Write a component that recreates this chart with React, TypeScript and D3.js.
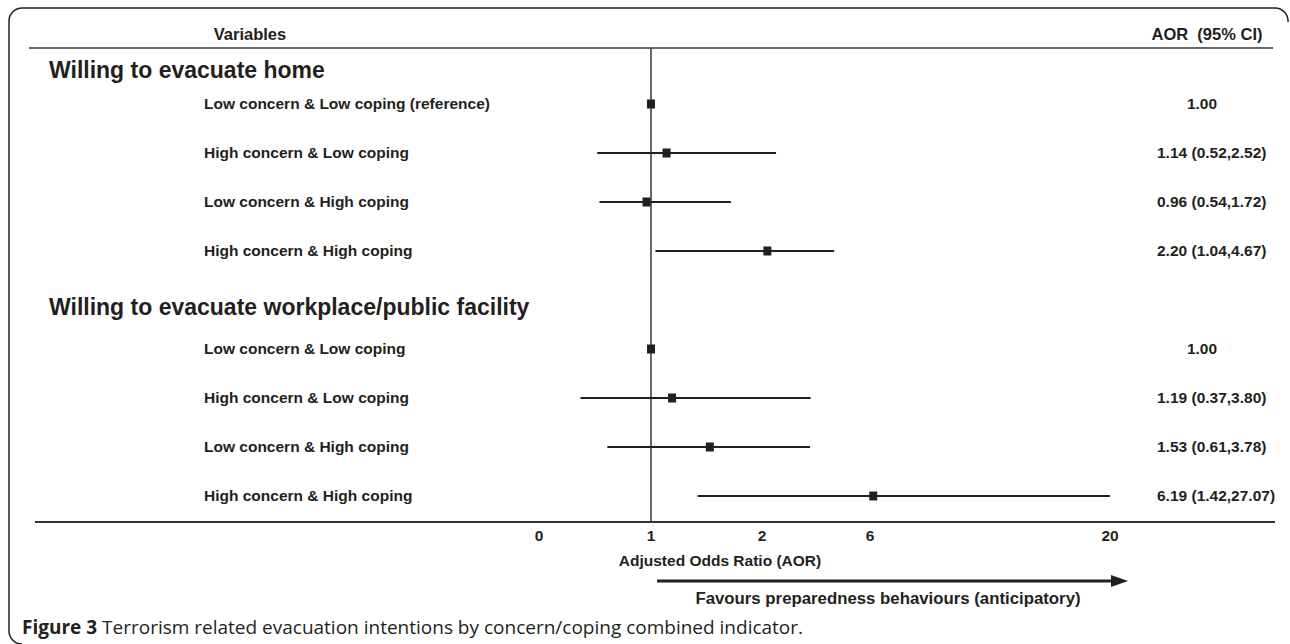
import React from 'react';
import * as d3 from 'd3';

// Forest plot data (adjusted odds ratios with 95% CI)
const groupTitles = ['Willing to evacuate home', 'Willing to evacuate workplace/public facility'];
const rowLabels = [
  'Low concern & Low coping (reference)',
  'High concern & Low coping',
  'Low concern & High coping',
  'High concern & High coping',
  'Low concern & Low coping',
  'High concern & Low coping',
  'Low concern & High coping',
  'High concern & High coping',
];
const aor = [1.0, 1.14, 0.96, 2.2, 1.0, 1.19, 1.53, 6.19];
const ciLow = [null, 0.52, 0.54, 1.04, null, 0.37, 0.61, 1.42];
const ciHigh = [null, 2.52, 1.72, 4.67, null, 3.8, 3.78, 27.07];
const tickValues = [0, 1, 2, 6, 20];
const tickLabels = ['0', '1', '2', '6', '20'];

const W = 1290;
const H = 644;
const ink = '#231f20';
const sans = 'Liberation Sans, Arial, Helvetica, sans-serif';

const App: React.FC = () => {
  // axis is drawn with uneven tick spacing, so piecewise scale through the ticks
  const x = d3.scaleLinear()
    .domain(tickValues)
    .range([539, 651, 762, 870, 1110])
    .clamp(true);

  // rows sit in slots, a slot is left for the second group title
  const slot = (i: number) => (i < 4 ? i : i + 1);
  const y = d3.scaleLinear().domain([0, 8]).range([104, 496]);

  const headerY = 48;
  const axisY = 522;
  const fmt = d3.format('.2f');

  const valueText = (i: number) =>
    ciLow[i] == null
      ? fmt(aor[i])
      : `${fmt(aor[i])} (${fmt(ciLow[i] as number)},${fmt(ciHigh[i] as number)})`;

  const arrowStart = x(1) + 6;
  const arrowEnd = x(20) + 18;
  const arrowY = 581;

  return (
    <svg
      width={W}
      height={H}
      style={{ position: 'absolute', left: 0, top: 0, background: '#fff' }}
      fontFamily={sans}
      fill={ink}
    >
      {/* frame */}
      <path
        d={`M 1288 22 A 13 13 0 0 0 1275 8 L 22 8 A 13 13 0 0 0 9 21 L 9 631 A 13 13 0 0 0 22 644`}
        fill="none"
        stroke={ink}
        strokeWidth={1.5}
      />

      {/* column headers */}
      <text x={250} y={34} dy="0.35em" textAnchor="middle" fontWeight="bold" fontSize={16.5}>
        Variables
      </text>
      <text x={1207} y={34} dy="0.35em" textAnchor="middle" fontWeight="bold" fontSize={16.5} style={{ whiteSpace: 'pre' }}>
        {'AOR  (95% CI)'}
      </text>
      <line x1={29} x2={1273} y1={headerY} y2={headerY} stroke="#333" strokeWidth={1.6} />

      {/* group titles */}
      <text x={49} y={y(-0.7)} dy="0.35em" fontWeight="bold" fontSize={23}>
        {groupTitles[0]}
      </text>
      <text x={49} y={y(4.15)} dy="0.35em" fontWeight="bold" fontSize={23}>
        {groupTitles[1]}
      </text>

      {/* reference line at AOR = 1 */}
      <line x1={x(1)} x2={x(1)} y1={headerY} y2={axisY} stroke="#444" strokeWidth={1.6} />

      {rowLabels.map((label, i) => {
        const cy = y(slot(i));
        return (
          <g key={i}>
            <text x={204} y={cy} dy="0.35em" fontWeight="bold" fontSize={15.5}>
              {label}
            </text>
            {ciLow[i] != null && (
              <line
                x1={x(ciLow[i] as number)}
                x2={x(ciHigh[i] as number)}
                y1={cy}
                y2={cy}
                stroke={ink}
                strokeWidth={2}
              />
            )}
            <rect x={x(aor[i]) - 4} y={cy - 4.5} width={8} height={9} fill={ink} />
            {ciLow[i] == null ? (
              <text x={1202} y={cy} dy="0.35em" textAnchor="middle" fontWeight="bold" fontSize={15.5}>
                {valueText(i)}
              </text>
            ) : (
              <text x={1157} y={cy} dy="0.35em" fontWeight="bold" fontSize={15.5}>
                {valueText(i)}
              </text>
            )}
          </g>
        );
      })}

      {/* x axis */}
      <line x1={35} x2={1275} y1={axisY} y2={axisY} stroke="#333" strokeWidth={2} />
      {tickValues.map((t, i) => (
        <text key={t} x={x(t)} y={536} dy="0.35em" textAnchor="middle" fontWeight="bold" fontSize={15.5}>
          {tickLabels[i]}
        </text>
      ))}
      <text x={720} y={561} dy="0.35em" textAnchor="middle" fontWeight="bold" fontSize={15.5}>
        Adjusted Odds Ratio (AOR)
      </text>

      {/* direction arrow */}
      <line x1={arrowStart} x2={arrowEnd - 14} y1={arrowY} y2={arrowY} stroke={ink} strokeWidth={3} />
      <path d={`M ${arrowEnd - 17} ${arrowY - 6} L ${arrowEnd} ${arrowY} L ${arrowEnd - 17} ${arrowY + 6} Z`} fill={ink} />
      <text x={888} y={598} dy="0.35em" textAnchor="middle" fontWeight="bold" fontSize={16.8}>
        Favours preparedness behaviours (anticipatory)
      </text>

      {/* caption */}
      <text x={22} y={627} dy="0.35em" fontSize={19} fontFamily="'Open Sans', 'Noto Sans', sans-serif">
        <tspan fontWeight="bold">Figure 3</tspan>
        {' Terrorism related evacuation intentions by concern/coping combined indicator.'}
      </text>
    </svg>
  );
};

export default App;
